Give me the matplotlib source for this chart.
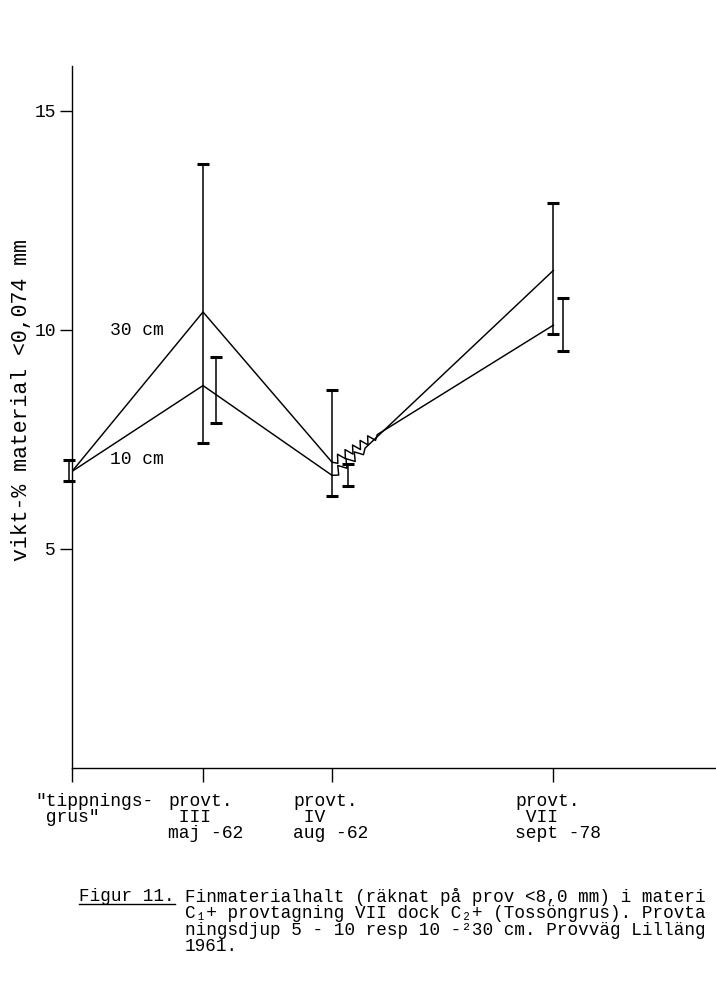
import numpy as np
import matplotlib.pyplot as plt
from matplotlib.lines import Line2D

plt.rcParams['font.family'] = ['Liberation Mono', 'DejaVu Sans Mono']

# sampling occasions along the road
station_labels = ['"tippnings-\n grus"', 'provt.\n III\nmaj -62',
                  'provt.\n IV\naug -62', 'provt.\n VII\nsept -78']
station_x = [0.0, 1.0, 1.985, 3.675]

# mean fines content, vikt-% < 0,074 mm
mean_30 = [6.76, 10.40, 6.97, 11.35]
mean_10 = [6.76, 8.72, 6.67, 10.10]

# spread (min / max) of the samples
low_30 = [6.53, 7.40, 6.21, 9.90]
high_30 = [7.03, 13.77, 8.61, 12.88]
low_10 = [np.nan, 7.87, 6.42, 9.52]
high_10 = [np.nan, 9.37, 6.92, 10.72]

# where the lines pick up again after the zigzag break (1962 -> 1978)
break_x = [2.33, 2.237]
break_y = [7.60, 7.29]

caption = ('Finmaterialhalt (räknat på prov <8,0 mm) i materi\n'
           'C\u2081+ provtagning VII dock C\u2082+ (Tossöngrus). Provta\n'
           'ningsdjup 5 - 10 resp 10 -\u00b230 cm. Provväg Lilläng\n'
           '1961.')

# pixel scale of the axes (used for the zigzag shape only)
px_x = 131.0
px_y = 43.8


def zigzag(x0, y0, x1, y1, n, amp):
    # zigzag from (x0,y0) to (x1,y1), amp in pixels
    t = np.linspace(0, 1, 2 * n + 1)
    xs = x0 + (x1 - x0) * t
    ys = y0 + (y1 - y0) * t
    dx = (x1 - x0) * px_x
    dy = (y1 - y0) * px_y
    ln = np.hypot(dx, dy)
    nx = -dy / ln / px_x
    ny = dx / ln / px_y
    off = amp * (-1.0) ** np.arange(len(t))
    off[0] = 0
    off[-1] = 0
    return xs + off * nx, ys + off * ny


fig = plt.figure(figsize=(7.16, 9.84), dpi=100)
ax = fig.add_axes([72 / 716, 1 - 767.5 / 984, 1 - 72 / 716, (767.5 - 66) / 984])
ax.set_xlim(0, (716 - 72) / px_x)
ax.set_ylim(0, (767.5 - 66) / px_y)

lw = 1.05
# upper path: 30 cm up to IV, then zigzag
zx, zy = zigzag(station_x[2], mean_30[2], break_x[0], break_y[0], 6, 4.0)
xs = list(station_x[:3]) + list(zx[1:]) + [station_x[3]]
ys = list(mean_30[:3]) + list(zy[1:]) + [mean_10[3]]
ax.plot(xs, ys, color='k', lw=lw)
# lower path: 10 cm up to IV, then zigzag
zx, zy = zigzag(station_x[2], mean_10[2], break_x[1], break_y[1], 4, 4.0)
xs = list(station_x[:3]) + list(zx[1:]) + [station_x[3]]
ys = list(mean_10[:3]) + list(zy[1:]) + [mean_30[3]]
ax.plot(xs, ys, color='k', lw=lw)

# error bars
shift_30 = [-0.02, 0.0, 0.0, 0.0]
shift_10 = [0.0, 0.10, 0.12, 0.07]
lo = np.array(low_30)
hi = np.array(high_30)
eb1 = ax.errorbar(np.array(station_x) + shift_30, (lo + hi) / 2, yerr=(hi - lo) / 2,
                  fmt='none', ecolor='k', elinewidth=1.1, capsize=4.5, capthick=2.2)
lo = np.array(low_10)
hi = np.array(high_10)
eb2 = ax.errorbar(np.array(station_x) + shift_10, (lo + hi) / 2, yerr=(hi - lo) / 2,
                  fmt='none', ecolor='k', elinewidth=1.1, capsize=4.5, capthick=2.2)
for eb in [eb1, eb2]:
    for art in eb.get_children():
        art.set_clip_on(False)

ax.text(0.29, 9.98, '30 cm', fontsize=13, ha='left', va='center')
ax.text(0.29, 7.03, '10 cm', fontsize=13, ha='left', va='center')

# axes styling
ax.spines['top'].set_visible(False)
ax.spines['right'].set_visible(False)
ax.spines['left'].set_linewidth(1.0)
ax.spines['bottom'].set_linewidth(1.0)

ax.set_yticks([5, 10, 15])
ax.set_yticklabels(['5', '10', '15'])
ax.tick_params(axis='y', direction='out', length=8.6, width=1.0, pad=3, labelsize=13)
ax.set_xticks(station_x)
ax.set_xticklabels([''] * len(station_x))
ax.tick_params(axis='x', direction='out', length=10, width=1.0)

label_shift = [-37, -35, -39, -38]
for i in range(len(station_labels)):
    ax.annotate(station_labels[i], xy=(station_x[i], 0), xycoords=('data', 'axes fraction'),
                xytext=(label_shift[i] * 0.72, -26 * 0.72), textcoords='offset points',
                ha='left', va='top', fontsize=13, linespacing=0.92)

fig.text(22 / 716, 1 - 400 / 984, 'vikt-% material <0,074 mm', rotation=90,
         ha='center', va='center', fontsize=15.5)

# caption
fig_t = fig.text(79 / 716, 1 - 901 / 984, 'Figur 11.', ha='left', va='baseline', fontsize=12.7)
fig.text(185 / 716, 1 - 888 / 984, caption, ha='left', va='top', fontsize=12.7,
         linespacing=0.96)

fig.canvas.draw()
bb = fig_t.get_window_extent()
uy = (bb.y0 + 1) / fig.bbox.height
fig.add_artist(Line2D([bb.x0 / fig.bbox.width, bb.x1 / fig.bbox.width], [uy, uy],
                      transform=fig.transFigure, color='k', lw=1.0))

plt.savefig('out.png', dpi=100)
